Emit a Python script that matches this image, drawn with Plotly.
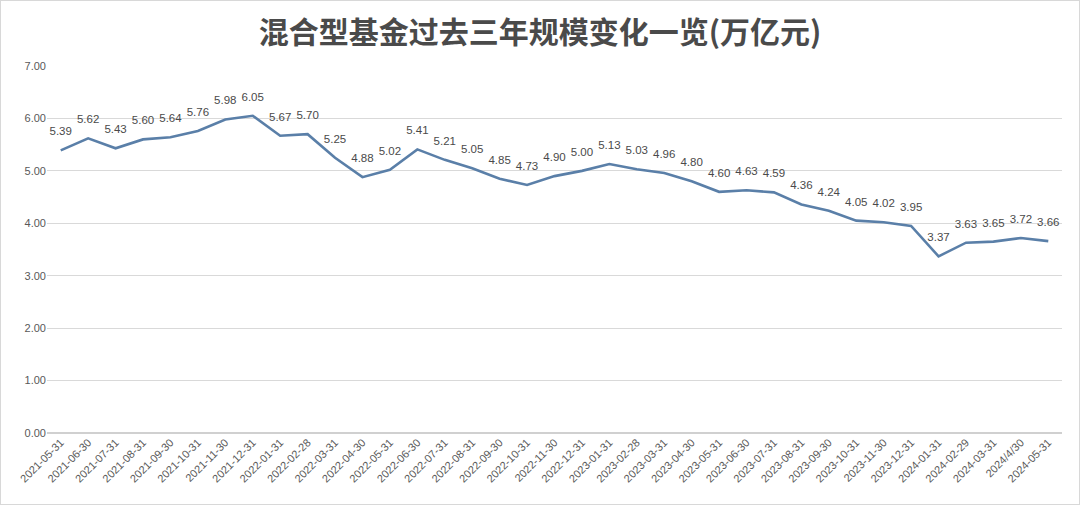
import plotly.graph_objects as go

dates = ["2021-05-31","2021-06-30","2021-07-31","2021-08-31","2021-09-30","2021-10-31","2021-11-30","2021-12-31",
         "2022-01-31","2022-02-28","2022-03-31","2022-04-30","2022-05-31","2022-06-30","2022-07-31","2022-08-31",
         "2022-09-30","2022-10-31","2022-11-30","2022-12-31","2023-01-31","2023-02-28","2023-03-31","2023-04-30",
         "2023-05-31","2023-06-30","2023-07-31","2023-08-31","2023-09-30","2023-10-31","2023-11-30","2023-12-31",
         "2024-01-31","2024-02-29","2024-03-31","2024/4/30","2024-05-31"]
values = [5.39,5.62,5.43,5.60,5.64,5.76,5.98,6.05,5.67,5.70,5.25,4.88,5.02,5.41,5.21,5.05,4.85,4.73,4.90,5.00,
          5.13,5.03,4.96,4.80,4.60,4.63,4.59,4.36,4.24,4.05,4.02,3.95,3.37,3.63,3.65,3.72,3.66]
title = "混合型基金过去三年规模变化一览(万亿元)"

font_family = "Liberation Sans, Noto Sans CJK SC, sans-serif"

fig = go.Figure(go.Scatter(
    x=dates, y=values, mode="lines+markers+text",
    line=dict(color="#5A7FA8", width=2.6),
    marker=dict(size=18, color="rgba(0,0,0,0)"),
    text=[f"{v:.2f}" for v in values], textposition="top center",
    textfont=dict(size=11.5, color="#4a4a4a", family=font_family),
    cliponaxis=False, hoverinfo="skip",
))

fig.update_layout(
    width=1080, height=505,
    margin=dict(l=47, r=18, t=66, b=72),
    paper_bgcolor="white", plot_bgcolor="white",
    showlegend=False,
    title=dict(text="<b>" + title + "</b>", x=0.5, xanchor="center", y=0.935, yanchor="middle",
               font=dict(size=30, color="#4a4a4a", family="Noto Sans CJK SC, sans-serif")),
    font=dict(family=font_family, color="#555555"),
)
fig.update_xaxes(type="category", tickangle=-45, tickfont=dict(size=11, color="#595959"),
                 showgrid=False, showline=False, ticks="", range=[-0.5, len(dates)-0.5])
fig.update_yaxes(range=[0, 7], dtick=1, tickformat=".2f", tickfont=dict(size=11, color="#595959"),
                 gridcolor="#d9d9d9", gridwidth=1, zeroline=True, zerolinecolor="#d0d0d0",
                 showline=False, ticks="", ticklen=0)
fig.update_layout(shapes=[dict(type="rect", xref="paper", yref="paper",
                               x0=-47/1015, x1=1+18/1015, y0=-72/367, y1=1+66/367,
                               line=dict(color="#d8d8d8", width=2))])
fig.write_html("out.html")
